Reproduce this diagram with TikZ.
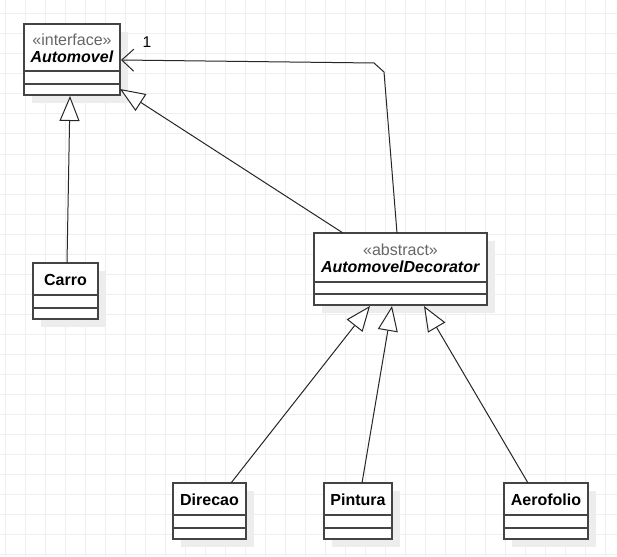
\documentclass[tikz,border=0pt]{standalone}
\usepackage{fontspec}
\setmainfont{Liberation Sans}
\usetikzlibrary{arrows.meta}
\definecolor{gridc}{HTML}{EFEFEF}
\definecolor{shad}{HTML}{EDEDED}
\definecolor{boxc}{HTML}{444444}
\tikzset{
  classbox/.style={draw=boxc, line width=1.3pt, fill=white},
  divline/.style={draw=boxc, line width=1.3pt},
  inherit/.style={draw=black!85, line width=1pt, -{Triangle[open, width=20pt, length=25pt, fill=white, line width=1pt]}},
  assoc/.style={draw=black!85, line width=1pt, -{Straight Barb[length=12pt, width=22pt, line width=1pt]}},
  lbl/.style={inner sep=0pt, font=\fontsize{15.5}{18}\selectfont},
}
\newcommand{\umlclass}[8]{%
  % name, x1, y1, x2, y2, div1, div2, text
  \fill[shad] (#2+8,#3+8) rectangle (#4+8,#5+8);
  \draw[classbox] (#2,#3) rectangle (#4,#5);
  \draw[divline] (#2,#6) -- (#4,#6);
  \draw[divline] (#2,#7) -- (#4,#7);
  \node[inner sep=0pt, align=center, font=\fontsize{16}{18.5}\selectfont] (#1-t) at ({(#2+#4)/2},{(#3+#6)/2+1}) {#8};
}
\begin{document}
\begin{tikzpicture}[x=1pt,y=-1pt]
\useasboundingbox (0,0) rectangle (617,556);
\fill[white] (0,0) rectangle (617,556);
\foreach \x in {5,25,...,605} \draw[gridc, line width=1pt] (\x,0) -- (\x,556);
\foreach \y in {14,34,...,554} \draw[gridc, line width=1pt] (0,\y) -- (617,\y);

\umlclass{auto}{24}{24}{120}{95}{71}{84}{\textcolor{black!60}{«interface»}\\[-1pt]\textbf{\textit{Automovel}}}
\umlclass{deco}{314}{233}{487}{305}{282}{294}{\textcolor{black!60}{«abstract»}\\[-1pt]\textbf{\textit{AutomovelDecorator}}}
\umlclass{carro}{33}{263}{98}{319}{295}{308}{\textbf{Carro}}
\umlclass{dir}{173}{483}{246}{539}{515}{528}{\textbf{Direcao}}
\umlclass{pin}{324}{483}{392}{539}{515}{528}{\textbf{Pintura}}
\umlclass{aero}{504}{483}{588}{539}{515}{528}{\textbf{Aerofolio}}

% anchor points
\coordinate (carroTop) at (67,263);
\coordinate (autoBot) at (70,96);
\coordinate (decoL) at (343,233);
\coordinate (autoR) at (120,89);
\coordinate (decoA) at (397,233);
\coordinate (bend1) at (384,72);
\coordinate (bend2) at (374,63);
\coordinate (autoM) at (121,60);
\coordinate (dirTop) at (231,483);
\coordinate (pinTop) at (362,483);
\coordinate (aeroTop) at (528,483);
\coordinate (decoB1) at (370,306);
\coordinate (decoB2) at (392,306);
\coordinate (decoB3) at (424,306);

\draw[inherit] (carroTop) -- (autoBot);
\draw[inherit] (decoL) -- (autoR);
\draw[assoc] (decoA) -- (bend1) -- (bend2) -- (autoM);
\node[lbl] (one) at (147,42) {1};
\draw[inherit] (dirTop) -- (decoB1);
\draw[inherit] (pinTop) -- (decoB2);
\draw[inherit] (aeroTop) -- (decoB3);
\end{tikzpicture}
\end{document}
